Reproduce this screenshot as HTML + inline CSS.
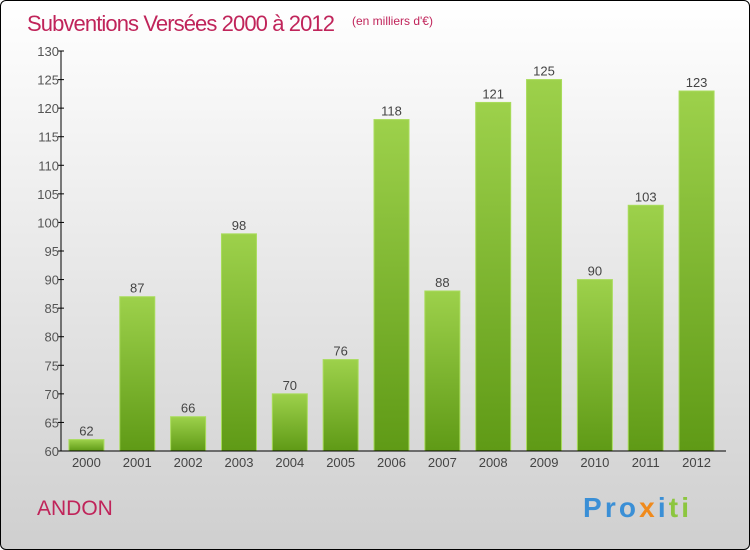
<!DOCTYPE html>
<html><head><meta charset="utf-8"><style>
html,body{margin:0;padding:0}
body{width:750px;height:550px;overflow:hidden;font-family:"Liberation Sans",sans-serif}
#frame{position:absolute;left:0;top:0;width:748px;height:548px;border:1px solid #000;border-radius:6px;background:linear-gradient(#ffffff,#cfcfcf);overflow:hidden}
</style></head><body>
<div id="frame">
<svg width="750" height="550" font-family="Liberation Sans,sans-serif">
<defs><linearGradient id="g" x1="0" y1="0" x2="0" y2="1"><stop offset="0" stop-color="#9dd14b"/><stop offset="1" stop-color="#5f9a16"/></linearGradient></defs>
<text x="26" y="30" font-size="22" fill="#c0245a" textLength="308">Subventions Versées 2000 à 2012</text>
<text x="351" y="24" font-size="12" fill="#c0245a">(en milliers d'€)</text>
<g id="plot"></g>
<text x="36" y="514" font-size="21" fill="#c0245a">ANDON</text>
<g font-size="28" font-weight="bold">
<text x="582" y="516" textLength="106"><tspan fill="#3a8fd6">Pro</tspan><tspan fill="#f08a1c">x</tspan><tspan fill="#3a8fd6">i</tspan><tspan fill="#8cc63f">ti</tspan></text>
</g>
</svg>
</div>
<script>
const years=["2000","2001","2002","2003","2004","2005","2006","2007","2008","2009","2010","2011","2012"];
const values=[62,87,66,98,70,76,118,88,121,125,90,103,123];
const yTicks=[60,65,70,75,80,85,90,95,100,105,110,115,120,125,130];
const NS="http://www.w3.org/2000/svg";
const g=document.getElementById('plot');
const x0=60,x1=721,yTop=50,yBot=450,vMin=60,vMax=130;
const y=v=>yBot-(v-vMin)/(vMax-vMin)*(yBot-yTop);
const step=(x1-x0)/years.length;
const xc=i=>x0+step*(i+0.5);
function mk(t,a){const e=document.createElementNS(NS,t);for(const k in a)e.setAttribute(k,a[k]);g.appendChild(e);return e;}
yTicks.forEach(v=>{
 const l=mk('line',{x1:x0-3,x2:x0+3,y1:y(v),y2:y(v),stroke:'#000'});
 
 
 const t=mk('text',{x:x0-2,y:y(v)+5,'text-anchor':'end','font-size':13,fill:'#555'});
 t.textContent=v;
 
 
});
values.forEach((v,i)=>{
 const w=35,cx=xc(i);
 const r=mk('rect',{x:cx-w/2,y:y(v),width:w,height:yBot-y(v),fill:'url(#g)',stroke:'#a9dc5c','stroke-width':1});
 
 
 const t=mk('text',{x:cx,y:y(v)-4,'text-anchor':'middle','font-size':13,fill:'#444'});
 t.textContent=v;
 
 
 const xl=mk('text',{x:cx,y:yBot+16,'text-anchor':'middle','font-size':13,fill:'#444'});
 xl.textContent=years[i];
 
 
});
const ax=mk('line',{x1:x0,x2:x0,y1:yTop,y2:yBot,stroke:'#000'});


const bx=mk('line',{x1:x0,x2:x1+4,y1:yBot,y2:yBot,stroke:'#000'});


</script>
</body></html>
